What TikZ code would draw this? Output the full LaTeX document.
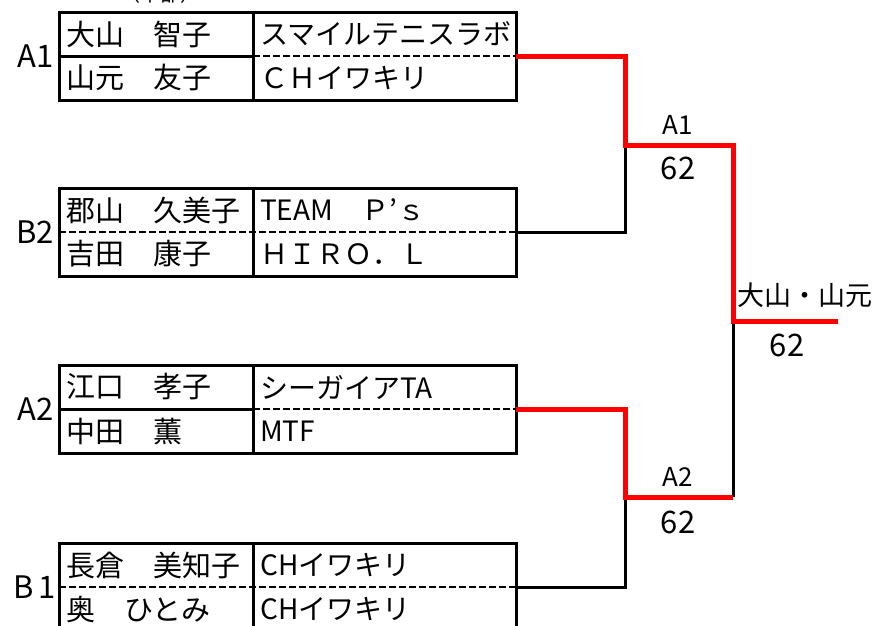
\documentclass[tikz,border=0pt]{standalone}
\usepackage{fontspec}
\setmainfont{Noto Sans CJK JP}

\tikzset{
  frame/.style={line width=3pt},
  dotrule/.style={line width=2.4pt, dash pattern=on 7pt off 3pt},
  namecell/.style={anchor=west, inner sep=0pt, font=\fontsize{29}{29}\selectfont},
  clubcell/.style={anchor=west, inner sep=0pt, font=\fontsize{28}{28}\selectfont},
  seedlabel/.style={anchor=east, inner sep=0pt, font=\fontsize{31}{31}\selectfont},
  winline/.style={line width=5pt, red, line join=miter},
  loseline/.style={line width=3pt, black},
  roundlabel/.style={inner sep=0pt, font=\fontsize{26}{26}\selectfont},
  scorelabel/.style={inner sep=0pt, font=\fontsize{31}{31}\selectfont},
}

\begin{document}
\begin{tikzpicture}[x=1pt, y=-1pt]
    \useasboundingbox (0,0) rectangle (875,625);
    \clip (0,0) rectangle (875,625);

    % Kopfzeile (abgeschnitten)
    \node[inner sep=0pt, anchor=base, font=\fontsize{20}{20}\selectfont] (head) at (160,1) {（中部）};

    % Paar A1
    \begin{scope}[shift={(0,12)}]
        \draw[frame] (59,0) rectangle (516,88);
        \draw[frame] (253,0) -- (253,88);
        \draw[frame] (59,44) -- (253,44);
        \draw[dotrule] (253,44) -- (516,44);
        \node[namecell] (n11) at (66,22) {大山　智子};
        \node[clubcell] (c11) at (260,22) {スマイルテニスラボ};
        \node[namecell] (n12) at (66,66) {山元　友子};
        \node[clubcell] (c12) at (260,66) {ＣＨイワキリ};
        \node[seedlabel] (s1) at (54,44) {A1};
        \coordinate (pA1) at (516,44);
    \end{scope}

    % Paar B2
    \begin{scope}[shift={(0,188)}]
        \draw[frame] (59,0) rectangle (516,88);
        \draw[frame] (253,0) -- (253,88);
        \draw[dotrule] (59,44) -- (516,44);
        \node[namecell] (n21) at (66,22) {郡山　久美子};
        \node[clubcell] (c21) at (260,22) {TEAM　Ｐ’ｓ};
        \node[namecell] (n22) at (66,66) {吉田　康子};
        \node[clubcell] (c22) at (260,66) {ＨＩＲＯ．Ｌ};
        \node[seedlabel] (s2) at (54,44) {B2};
        \coordinate (pB2) at (516,44);
    \end{scope}

    % Paar A2
    \begin{scope}[shift={(0,365)}]
        \draw[frame] (59,0) rectangle (516,88);
        \draw[frame] (253,0) -- (253,88);
        \draw[frame] (59,44) -- (253,44);
        \draw[dotrule] (253,44) -- (516,44);
        \node[namecell] (n31) at (66,22) {江口　孝子};
        \node[clubcell] (c31) at (260,22) {シーガイアTA};
        \node[namecell] (n32) at (66,66) {中田　薫};
        \node[clubcell] (c32) at (260,66) {MTF};
        \node[seedlabel] (s3) at (54,44) {A2};
        \coordinate (pA2) at (516,44);
    \end{scope}

    % Paar B1
    \begin{scope}[shift={(0,543)}]
        \draw[frame] (59,92) -- (59,0) -- (516,0) -- (516,92);
        \draw[frame] (253,0) -- (253,92);
        \draw[dotrule] (59,44) -- (516,44);
        \node[namecell] (n41) at (66,22) {長倉　美知子};
        \node[clubcell] (c41) at (260,22) {CHイワキリ};
        \node[namecell] (n42) at (66,66) {奥　ひとみ};
        \node[clubcell] (c42) at (260,66) {CHイワキリ};
        \node[seedlabel] (s4) at (56,44) {B\kern5pt 1};
        \coordinate (pB1) at (516,44);
    \end{scope}

    % Turnierbaum
    \coordinate (semiA) at (625,145);
    \coordinate (semiB) at (625,497);
    \coordinate (final) at (733,321);
    \coordinate (champ) at (838,321);

    \draw[loseline] (pB2) -| (semiA);
    \draw[loseline] (pB1) -| (semiB);
    \draw[loseline] (semiB -| final) -- (final);
    \draw[winline] (pA1) -- (625,56) |- (semiA -| final) -- (final) -- (champ);
    \draw[winline] (pA2) -- (625,409) |- (semiB -| final);

    % Ergebnisse
    \node[roundlabel] (r1) at (678,125) {A1};
    \node[scorelabel] (r1s) at (678,168) {62};
    \node[roundlabel] (r2) at (678,477) {A2};
    \node[scorelabel] (r2s) at (678,522) {62};
    \node[inner sep=0pt, font=\fontsize{27}{27}\selectfont] (win) at (805,295) {大山・山元};
    \node[scorelabel] (wins) at (787,345) {62};
\end{tikzpicture}
\end{document}
